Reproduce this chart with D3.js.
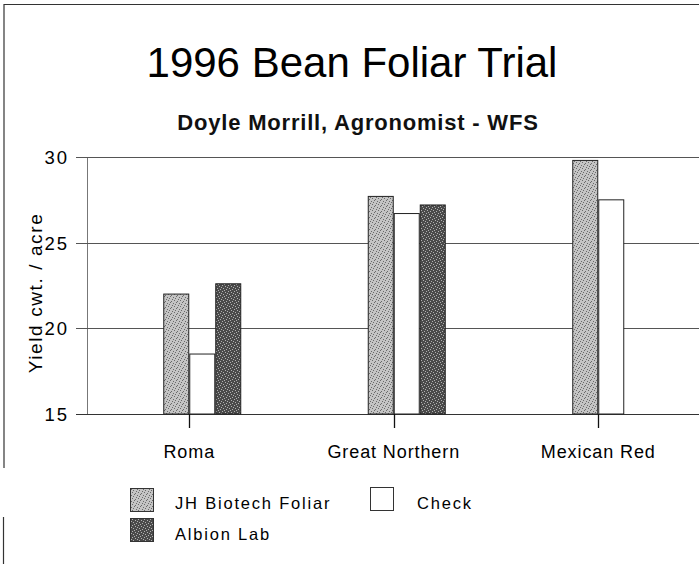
<!DOCTYPE html>
<html>
<head>
<meta charset="utf-8">
<script src="https://cdn.jsdelivr.net/npm/d3@7"></script>
<style>
  html, body { margin: 0; padding: 0; background: #fff; }
  svg { display: block; font-family: "Liberation Sans", Arial, Helvetica, sans-serif; }
</style>
</head>
<body>
<svg id="chart" width="699" height="564"></svg>
<script>
// ---- data ----
const categories = ["Roma", "Great Northern", "Mexican Red"];
const seriesNames = ["JH Biotech Foliar", "Check", "Albion Lab"];
const jhBiotech = [22.0, 27.7, 29.8];
const check = [18.5, 26.7, 27.5];
const albionLab = [22.6, 27.2, null];
const yTicks = [15, 20, 25, 30];
const titleText = "1996 Bean Foliar Trial";
const subtitleText = "Doyle Morrill, Agronomist - WFS";
const yLabel = "Yield cwt. / acre";

const seriesValues = [jhBiotech, check, albionLab];

const svg = d3.select("#chart");
const defs = svg.append("defs");

// stipple patterns (deterministic)
function stipple(id, base, dot, cells) {
  const p = defs.append("pattern").attr("id", id).attr("patternUnits", "userSpaceOnUse")
    .attr("width", 6).attr("height", 6);
  p.append("rect").attr("width", 6).attr("height", 6).attr("fill", base);
  cells.forEach(([cx, cy]) => p.append("rect").attr("x", cx).attr("y", cy).attr("width", 1).attr("height", 1).attr("fill", dot));
}
stipple("patLight", "#c4c4c4", "#6a6a6a", [[0,0],[3,1],[5,3],[1,4],[4,5],[2,2]]);
stipple("patDark", "#4a4a4a", "#b0b0b0", [[1,0],[4,1],[0,3],[3,4],[5,5],[2,2]]);
const fills = ["url(#patLight)", "#ffffff", "url(#patDark)"];

// frame
svg.append("line").attr("x1", 4).attr("x2", 699).attr("y1", 4.5).attr("y2", 4.5).attr("stroke", "#333").attr("stroke-width", 1.2);
svg.append("line").attr("x1", 4).attr("x2", 4).attr("y1", 4).attr("y2", 468).attr("stroke", "#333").attr("stroke-width", 1.2);
svg.append("line").attr("x1", 3.5).attr("x2", 3.5).attr("y1", 517).attr("y2", 564).attr("stroke", "#333").attr("stroke-width", 1.2);

// titles
svg.append("text").attr("x", 352).attr("y", 77).attr("text-anchor", "middle")
  .attr("font-size", 42).attr("fill", "#000").text(titleText);
svg.append("text").attr("x", 358).attr("y", 130).attr("text-anchor", "middle")
  .attr("font-size", 22).attr("font-weight", "bold").attr("letter-spacing", 0.8).attr("fill", "#111").text(subtitleText);

// scales
const plotLeft = 87, plotRight = 700.5, plotTop = 157, plotBottom = 414;
const x0 = d3.scaleBand().domain(categories).range([plotLeft, plotRight]).padding(0);
const x1 = d3.scaleBand().domain(seriesNames).range([-26, 52]).padding(0);
const y = d3.scaleLinear().domain([15, 30]).range([plotBottom, plotTop]);

// y axis line
const yAxis = svg.append("g").attr("transform", `translate(${plotLeft},0)`)
  .call(d3.axisLeft(y).tickValues(yTicks).tickSize(0).tickFormat(""));
yAxis.select(".domain").attr("stroke", "#777").attr("stroke-width", 1);

// grid lines (extend left as ticks)
const grid = svg.append("g");
grid.selectAll("line").data(yTicks).join("line")
  .attr("x1", 76).attr("x2", 699)
  .attr("y1", d => Math.round(y(d)) + 0.5).attr("y2", d => Math.round(y(d)) + 0.5)
  .attr("stroke", d => d === 15 ? "#333" : "#555").attr("stroke-width", 1.1);

svg.append("g").selectAll("text").data(yTicks).join("text")
  .attr("x", 69).attr("y", d => y(d) + 7)
  .attr("text-anchor", "end").attr("font-size", 18.5).attr("letter-spacing", 2)
  .attr("fill", "#000").text(d => d);

// y label
svg.append("text").attr("transform", "translate(42,293) rotate(-90)")
  .attr("text-anchor", "middle").attr("font-size", 19).attr("letter-spacing", 1.6)
  .attr("fill", "#000").text(yLabel);

// bars
const barData = [];
categories.forEach((c, i) => {
  seriesNames.forEach((s, j) => {
    const v = seriesValues[j][i];
    if (v != null) barData.push({ c, s, j, v });
  });
});
svg.append("g").selectAll("rect").data(barData).join("rect")
  .attr("x", d => x0(d.c) + x0.bandwidth() / 2 + x1(d.s) + 0.5)
  .attr("y", d => y(d.v))
  .attr("width", x1.bandwidth() - 1)
  .attr("height", d => y(15) - y(d.v))
  .attr("fill", d => fills[d.j])
  .attr("stroke", "#222").attr("stroke-width", 1);

// x axis ticks and labels
const xAxis = svg.append("g").attr("transform", `translate(0,${plotBottom})`)
  .call(d3.axisBottom(x0).tickSize(0).tickPadding(20));
xAxis.select(".domain").remove();
xAxis.selectAll(".tick line").remove();
xAxis.selectAll(".tick text").attr("font-size", 18).attr("letter-spacing", 0.9)
  .attr("fill", "#000").attr("font-family", "Liberation Sans, Arial, sans-serif")
  .attr("dy", "0.7em").attr("y", 31);

svg.append("g").selectAll("line").data(categories).join("line")
  .attr("x1", d => Math.round(x0(d) + x0.bandwidth() / 2) + 0.5)
  .attr("x2", d => Math.round(x0(d) + x0.bandwidth() / 2) + 0.5)
  .attr("y1", plotBottom).attr("y2", plotBottom + 14)
  .attr("stroke", "#111").attr("stroke-width", 1.3);

// legend
const legendItems = [
  { name: seriesNames[0], j: 0, sx: 130, sy: 488, tx: 175, ty: 509 },
  { name: seriesNames[1], j: 1, sx: 370, sy: 487, tx: 417, ty: 509 },
  { name: seriesNames[2], j: 2, sx: 130, sy: 518, tx: 175, ty: 540 }
];
const lg = svg.append("g").selectAll("g").data(legendItems).join("g");
lg.append("rect").attr("x", d => d.sx + 0.5).attr("y", d => d.sy + 0.5)
  .attr("width", 23).attr("height", 23)
  .attr("fill", d => fills[d.j]).attr("stroke", "#333").attr("stroke-width", 1);
lg.append("text").attr("x", d => d.tx).attr("y", d => d.ty)
  .attr("font-size", 16.5).attr("letter-spacing", 1.8).attr("fill", "#000").text(d => d.name);
</script>
</body>
</html>
